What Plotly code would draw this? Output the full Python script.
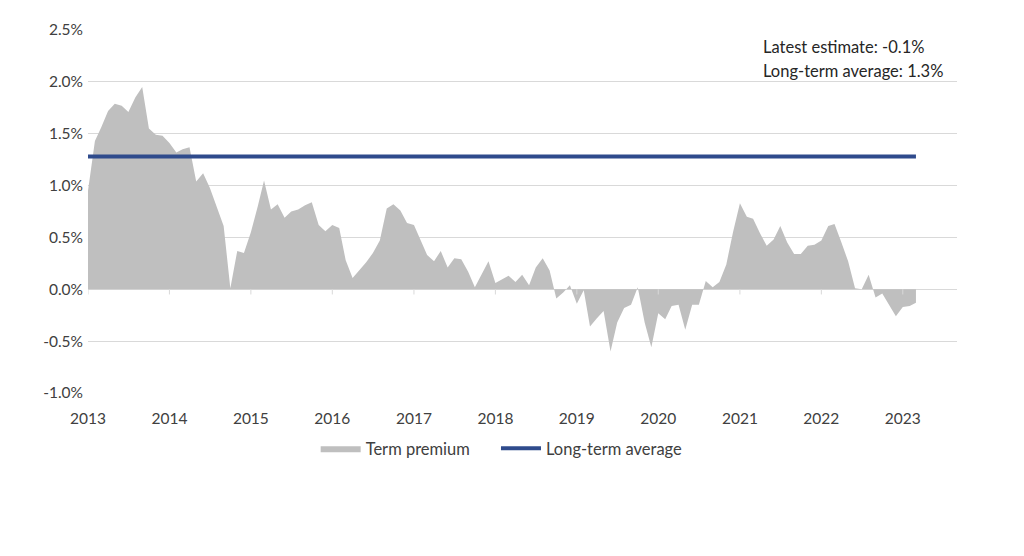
import pandas as pd
import plotly.graph_objects as go

# 每月期限溢價估計值 (%)，2013-01 ~ 2023-03
term_premium = [
    0.95, 1.43, 1.56, 1.72, 1.79, 1.77, 1.71, 1.85, 1.95, 1.55, 1.49, 1.48,   # 2013
    1.41, 1.32, 1.35, 1.37, 1.04, 1.12, 0.98, 0.80, 0.61, 0.01, 0.37, 0.35,   # 2014
    0.55, 0.80, 1.05, 0.77, 0.82, 0.69, 0.75, 0.77, 0.81, 0.84, 0.62, 0.56,   # 2015
    0.62, 0.59, 0.28, 0.11, 0.18, 0.26, 0.35, 0.47, 0.78, 0.82, 0.76, 0.64,   # 2016
    0.62, 0.47, 0.33, 0.27, 0.37, 0.21, 0.30, 0.29, 0.17, 0.02, 0.15, 0.27,   # 2017
    0.06, 0.10, 0.13, 0.07, 0.14, 0.04, 0.21, 0.30, 0.18, -0.09, -0.03, 0.04,  # 2018
    -0.14, -0.01, -0.36, -0.28, -0.21, -0.60, -0.32, -0.18, -0.15, 0.02, -0.32, -0.56,  # 2019
    -0.23, -0.29, -0.16, -0.15, -0.39, -0.15, -0.15, 0.08, 0.02, 0.07, 0.24, 0.55,  # 2020
    0.83, 0.70, 0.68, 0.54, 0.42, 0.48, 0.61, 0.45, 0.34, 0.34, 0.42, 0.43,   # 2021
    0.47, 0.61, 0.63, 0.45, 0.27, 0.01, 0.00, 0.14, -0.08, -0.04, -0.15, -0.26,  # 2022
    -0.17, -0.16, -0.13,                                                      # 2023
]
dates = pd.date_range("2013-01-01", periods=len(term_premium), freq="MS")
long_term_avg = 1.28
years = list(range(2013, 2024))
y_ticks = [-1.0, -0.5, 0.0, 0.5, 1.0, 1.5, 2.0, 2.5]
note_lines = ["Latest estimate: -0.1%", "Long-term average: 1.3%"]

font = "Lato, 'Open Sans', sans-serif"
text_color = "#404040"

fig = go.Figure()
fig.add_trace(go.Scatter(
    x=dates, y=term_premium, name="Term premium\u00a0\u00a0\u00a0\u00a0\u00a0",
    mode="lines", fill="tozeroy", fillcolor="#BFBFBF",
    line=dict(width=0, color="#BFBFBF"),
))
fig.add_trace(go.Scatter(
    x=[dates[0], dates[-1]], y=[long_term_avg, long_term_avg],
    name="Long-term average", mode="lines",
    line=dict(width=4, color="#2F4B8C"),
))

# 0% 線上的年份刻度
for yr in years:
    fig.add_shape(type="line", xref="x", yref="y",
                  x0=f"{yr}-01-01", x1=f"{yr}-01-01", y0=0, y1=-0.05,
                  line=dict(color="#D9D9D9", width=1))

# 右上角說明文字，兩行分開放以控制行距
for i, line in enumerate(note_lines):
    fig.add_annotation(
        xref="paper", yref="paper", x=0.774, y=0.953 - 0.066 * i,
        xanchor="left", yanchor="middle",
        text=line, showarrow=False, align="left",
        font=dict(family=font, size=16.5, color="#262626"),
    )

# 頁面 body 預設有 8px 邊距，因此寬高各扣 8
fig.update_layout(
    width=1016, height=548,
    margin=dict(l=80, r=67, t=22, b=163),
    paper_bgcolor="white", plot_bgcolor="white",
    font=dict(family=font, size=15.5, color=text_color),
    showlegend=True,
    legend=dict(orientation="h", x=0.262, xanchor="left", y=-0.105, yanchor="top",
                itemwidth=40, font=dict(size=16.5, color=text_color),
                traceorder="normal"),
    xaxis=dict(
        type="date", range=["2013-01-01", "2023-09-01"],
        tickvals=[f"{yr}-01-01" for yr in years], ticktext=[str(yr) for yr in years],
        showgrid=False, zeroline=False, showline=False, ticks="",
        ticklabelstandoff=14,
    ),
    yaxis=dict(
        range=[-1.0, 2.5], tickvals=y_ticks,
        ticktext=[f"{v:.1f}%" for v in y_ticks],
        showgrid=True, gridcolor="#D9D9D9", gridwidth=1,
        zeroline=False, showline=False, ticks="", ticklabelstandoff=4,
    ),
)

fig.write_html("out.html")
